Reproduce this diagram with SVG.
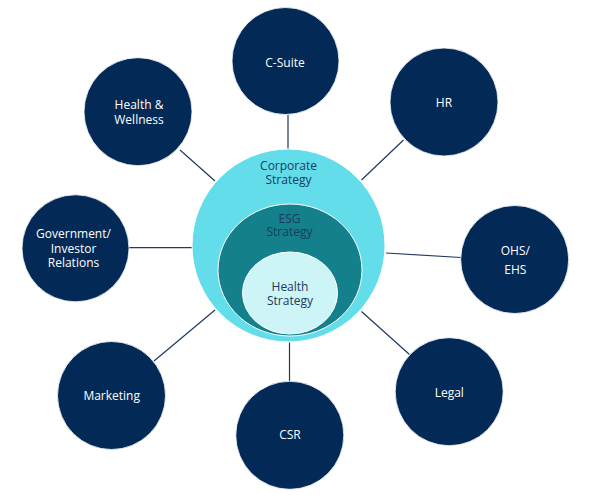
<svg xmlns="http://www.w3.org/2000/svg" width="591" height="500" viewBox="0 0 591 500">
<style>
.node{fill:#032a56;stroke:#ffffff;stroke-width:0.8}
.lbl{font-family:"Open Sans","Liberation Sans",sans-serif;font-size:12px;fill:#ffffff;text-anchor:middle}
.in{font-family:"Open Sans","Liberation Sans",sans-serif;font-size:12px;fill:#1b3a60;text-anchor:middle}
.conn line{stroke:#1e3a5c;stroke-width:1.2}
</style>
<rect width="591" height="500" fill="#ffffff"/>
<g class="conn">
<line x1="288" y1="115" x2="288" y2="149"/>
<line x1="403.5" y1="140" x2="361.5" y2="180"/>
<line x1="386" y1="253" x2="461" y2="257.5"/>
<line x1="361.5" y1="311.5" x2="409.5" y2="354.5"/>
<line x1="289.5" y1="341" x2="289.5" y2="382"/>
<line x1="154" y1="361" x2="215" y2="310"/>
<line x1="128" y1="247.7" x2="192" y2="247.7"/>
<line x1="180" y1="150" x2="215" y2="181"/>
</g>
<g id="corporate">
<circle cx="288.5" cy="245.5" r="96.5" fill="#62dde9" stroke="#ffffff" stroke-width="1"/>
<text class="in" x="288.5" y="170">Corporate</text>
<text class="in" x="288.5" y="183.7">Strategy</text>
</g>
<g id="esg">
<ellipse cx="290" cy="270" rx="72" ry="66" fill="#13808b" stroke="#ffffff" stroke-width="1"/>
<text class="in" x="289.5" y="222.6">ESG</text>
<text class="in" x="289.5" y="236.2">Strategy</text>
</g>
<g id="health">
<ellipse cx="290" cy="293" rx="47.5" ry="41" fill="#cdf4f7" stroke="#ffffff" stroke-width="1"/>
<text class="in" x="290" y="291">Health</text>
<text class="in" x="290" y="305.2">Strategy</text>
</g>
<g id="csuite">
<circle class="node" cx="285.5" cy="61" r="53.5"/>
<text class="lbl" x="285" y="66.6">C-Suite</text>
</g>
<g id="hr">
<circle class="node" cx="444" cy="102" r="54"/>
<text class="lbl" x="444" y="106.6">HR</text>
</g>
<g id="ohs">
<circle class="node" cx="514.7" cy="259.5" r="54"/>
<text class="lbl" x="515.3" y="255.4">OHS/</text>
<text class="lbl" x="515.3" y="274.4">EHS</text>
</g>
<g id="legal">
<circle class="node" cx="449.2" cy="391.7" r="54"/>
<text class="lbl" x="449.3" y="396.6">Legal</text>
</g>
<g id="csr">
<circle class="node" cx="289.8" cy="435.3" r="54"/>
<text class="lbl" x="290" y="439.4">CSR</text>
</g>
<g id="marketing">
<circle class="node" cx="111.5" cy="395.5" r="54"/>
<text class="lbl" x="111.7" y="400.4">Marketing</text>
</g>
<g id="government">
<circle class="node" cx="75.5" cy="248.3" r="53.5"/>
<text class="lbl" x="73.5" y="237.6">Government/</text>
<text class="lbl" x="73.5" y="252.6">Investor</text>
<text class="lbl" x="73.5" y="266.6">Relations</text>
</g>
<g id="wellness">
<circle class="node" cx="138" cy="111.7" r="54"/>
<text class="lbl" x="139" y="109.4">Health &amp;</text>
<text class="lbl" x="139" y="124.4">Wellness</text>
</g>
</svg>
